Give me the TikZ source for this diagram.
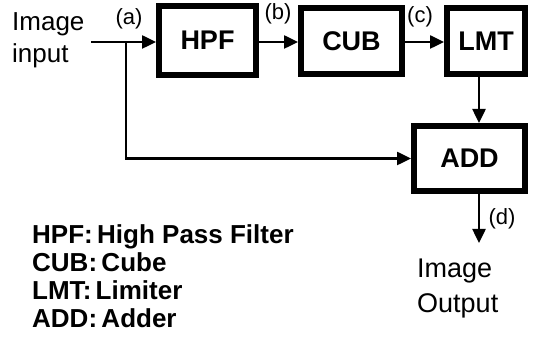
\documentclass[tikz,border=0pt]{standalone}
\usepackage{fontspec}
\setmainfont{Liberation Sans}
\usetikzlibrary{arrows.meta, positioning, calc}
\tikzset{
  arr/.style={-{Triangle[length=14pt, width=13pt]}, line width=2.5pt, black},
  flowblock/.style={rectangle, draw=black, line width=6pt, fill=white, inner sep=0pt, font=\fontsize{27}{30}\selectfont\bfseries},
  tag/.style={inner sep=0pt, font=\fontsize{22}{24}\selectfont},
  caption/.style={inner sep=0pt, align=left, anchor=north west, font=\fontsize{26}{32}\selectfont},
}

\begin{document}
\begin{tikzpicture}[x=1pt, y=-1pt]
  \useasboundingbox (0,0) rectangle (549,347);

  % Processing blocks
  \node[flowblock, minimum width=97pt, minimum height=69pt] (HPF) at (207.5,40.5) {HPF};
  \node[flowblock, minimum width=101pt, minimum height=66pt] (CUB) at (351.5,41) {CUB};
  \node[flowblock, minimum width=78pt, minimum height=66pt] (LMT) at (486,41) {LMT};
  \node[flowblock, minimum width=111pt, minimum height=65pt] (ADD) at (469.5,158.5) {ADD};

  % Signal path
  \coordinate (src) at (91,42);
  \coordinate (tap) at (126,42);
  \coordinate (drop) at (479,0);
  \coordinate (out) at (479,243);
  \draw[arr] (src) -- (src -| HPF.west);
  \draw[arr] (HPF.east |- tap) -- (CUB.west |- tap);
  \draw[arr] (CUB.east |- tap) -- (LMT.west |- tap);
  \draw[arr] (tap) |- (ADD.west);
  \draw[arr] (LMT.south -| drop) -- (ADD.north -| drop);
  \draw[arr] (ADD.south -| out) -- (out);

  % Signal tags
  \node[tag] (ta) at (129,19) {(a)};
  \node[tag] (tb) at (278,14) {(b)};
  \node[tag] (tc) at (420,17) {(c)};
  \node[tag] (td) at (502,219) {(d)};

  % Captions and key
  \node[caption] (input) at (12,12) {Image\\input};
  \node[caption, font=\fontsize{27}{35}\selectfont] (output) at (417,259) {Image\\Output};
  \node[caption, font=\fontsize{26}{28}\selectfont\bfseries] (key) at (32,224) {HPF:\,High Pass Filter\\CUB:\,Cube\\LMT:\,Limiter\\ADD:\,Adder};
\end{tikzpicture}
\end{document}
